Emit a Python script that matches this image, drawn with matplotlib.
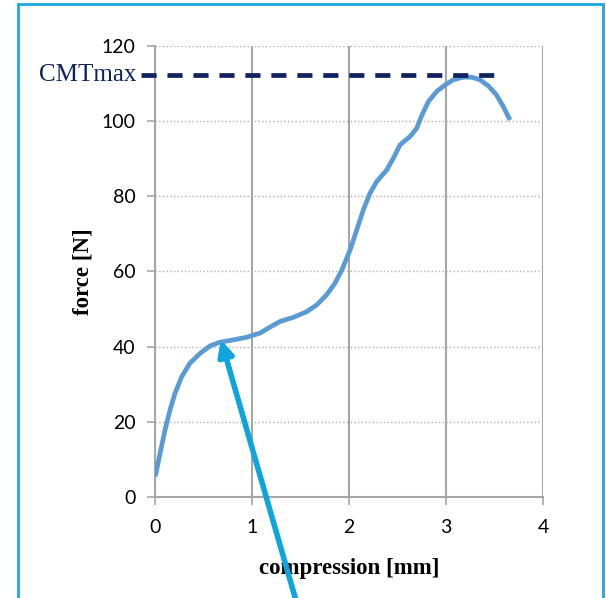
import matplotlib.pyplot as plt
from matplotlib.patches import Rectangle

# data
compression = [0.0, 0.01, 0.052, 0.103, 0.155, 0.206, 0.275, 0.36, 0.464, 0.567, 0.67,
               0.807, 0.945, 1.082, 1.186, 1.289, 1.426, 1.564, 1.667, 1.77, 1.856,
               1.93, 1.976, 2.015, 2.079, 2.148, 2.216, 2.285, 2.389, 2.457, 2.526,
               2.629, 2.698, 2.75, 2.818, 2.904, 2.99, 3.075, 3.178, 3.265, 3.35,
               3.436, 3.52, 3.59, 3.66]
force = [5.5, 6.3, 11.6, 17.8, 23.2, 27.6, 32.0, 35.6, 38.2, 40.2, 41.2,
         41.8, 42.5, 43.6, 45.2, 46.7, 47.8, 49.3, 51.1, 53.8, 56.9,
         60.6, 63.5, 66.0, 71.0, 76.4, 80.8, 83.9, 87.0, 90.1, 93.7,
         95.9, 98.1, 101.5, 105.2, 107.9, 109.6, 111.0, 111.7, 111.7, 111.0,
         109.4, 107.0, 103.9, 100.3]
cmt_max = 112.4
cmt_start = -0.14
cmt_end = 3.52
arrow_point = (0.68, 41.8)

fig = plt.figure(figsize=(6.06, 5.98), dpi=100)
ax = fig.add_axes([0.2558, 0.1689, 0.896 - 0.2558, 0.9231 - 0.1689])

ax.plot(compression, force, color='#5b9bd5', lw=3.4, solid_capstyle='butt',
        solid_joinstyle='round', zorder=3)
ax.plot([cmt_start, cmt_end], [cmt_max, cmt_max], color='#10235e', lw=3.4,
        dashes=(3.2, 2.3), clip_on=False, zorder=4)
ax.text(-0.19, cmt_max, 'CMTmax', ha='right', va='center', color='#10235e',
        fontsize=18, family='Liberation Serif')

ax.set_xlim(0, 4)
ax.set_ylim(0, 120)
ax.set_xticks([0, 1, 2, 3, 4])
ax.set_yticks(range(0, 121, 20))

ax.grid(axis='x', color='#a6a6a6', lw=1.5, ls='-')
ax.grid(axis='y', color='#b0b0b0', lw=1, ls=':')
ax.set_axisbelow(True)
for s in ['top', 'right']:
    ax.spines[s].set_visible(False)
for s in ['left', 'bottom']:
    ax.spines[s].set_color('#a6a6a6')
    ax.spines[s].set_linewidth(1.5)
ax.tick_params(colors='#a6a6a6', length=6, width=1.2, labelcolor='black',
               labelsize=14)
ax.tick_params(axis='x', pad=10)
ax.tick_params(axis='y', pad=8)
for lab in ax.get_xticklabels() + ax.get_yticklabels():
    lab.set_family('Lato')

ax.set_xlabel('compression [mm]', family='Liberation Serif', fontweight='bold',
              fontsize=16.5, labelpad=16)
ax.set_ylabel('force [N]', family='Liberation Serif', fontweight='bold',
              fontsize=16.5, labelpad=6)

ax.annotate('', xy=arrow_point, xycoords='data',
            xytext=(297 / 606, -0.01), textcoords='figure fraction',
            arrowprops=dict(arrowstyle='-|>,head_length=0.9,head_width=0.45',
                            color='#0ea5dc', lw=4, shrinkA=0, shrinkB=0),
            annotation_clip=False, zorder=5)

fig.patches.append(Rectangle((18 / 606, -0.05), (603 - 18) / 606, 1 - 4 / 598 + 0.05,
                             transform=fig.transFigure, fill=False,
                             edgecolor='#1aa7e0', lw=2))

fig.savefig('out.png', dpi=100)
